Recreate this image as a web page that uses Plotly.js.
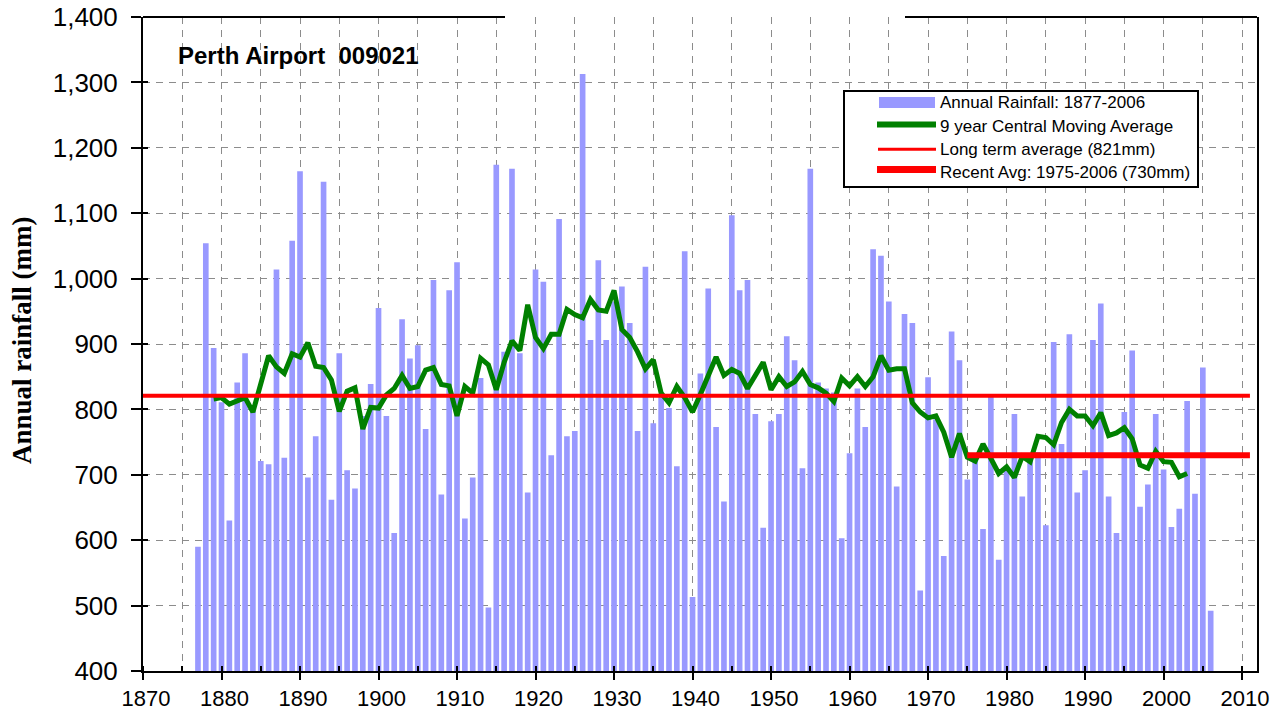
<!DOCTYPE html>
<html>
<head>
<meta charset="utf-8">
<script src="https://cdn.plot.ly/plotly-3.0.1.min.js"></script>
<style>html,body{margin:0;padding:0;background:#fff;}#chart{width:1274px;height:721px;}</style>
</head>
<body>
<div id="chart"></div>
<script>
// ---- data ----
const rainYears = [1877,1878,1879,1880,1881,1882,1883,1884,1885,1886,1887,1888,1889,1890,1891,1892,1893,1894,1895,1896,1897,1898,1899,1900,1901,1902,1903,1904,1905,1906,1907,1908,1909,1910,1911,1912,1913,1914,1915,1916,1917,1918,1919,1920,1921,1922,1923,1924,1925,1926,1927,1928,1929,1930,1931,1932,1933,1934,1935,1936,1937,1938,1939,1940,1941,1942,1943,1944,1945,1946,1947,1948,1949,1950,1951,1952,1953,1954,1955,1956,1957,1958,1959,1960,1961,1962,1963,1964,1965,1966,1967,1968,1969,1970,1971,1972,1973,1974,1975,1976,1977,1978,1979,1980,1981,1982,1983,1984,1985,1986,1987,1988,1989,1990,1991,1992,1993,1994,1995,1996,1997,1998,1999,2000,2001,2002,2003,2004,2005,2006];
const rainfall = [590,1054,894,811,630,841,886,800,721,716,1014,726,1058,1164,696,759,1148,662,886,707,679,790,839,955,790,611,938,878,898,770,998,670,982,1025,633,696,848,497,1174,888,1168,886,673,1014,995,730,1091,759,767,1313,906,1028,906,965,988,932,767,1018,779,820,802,713,1042,513,855,985,773,659,1097,982,998,793,619,782,793,912,875,710,1168,841,832,826,603,733,832,773,1045,1035,965,682,946,932,523,849,785,576,919,875,693,726,617,819,570,708,793,667,725,735,623,903,747,915,673,707,906,962,667,611,796,890,651,685,793,708,620,648,813,671,864,492];

const maYears = [1879,1880,1881,1882,1883,1884,1885,1886,1887,1888,1889,1890,1891,1892,1893,1894,1895,1896,1897,1898,1899,1900,1901,1902,1903,1904,1905,1906,1907,1908,1909,1910,1911,1912,1913,1914,1915,1916,1917,1918,1919,1920,1921,1922,1923,1924,1925,1926,1927,1928,1929,1930,1931,1932,1933,1934,1935,1936,1937,1938,1939,1940,1941,1942,1943,1944,1945,1946,1947,1948,1949,1950,1951,1952,1953,1954,1955,1956,1957,1958,1959,1960,1961,1962,1963,1964,1965,1966,1967,1968,1969,1970,1971,1972,1973,1974,1975,1976,1977,1978,1979,1980,1981,1982,1983,1984,1985,1986,1987,1988,1989,1990,1991,1992,1993,1994,1995,1996,1997,1998,1999,2000,2001,2002,2003];
const movingAvg = [816,818,808,812,818,796,840,882,865,855,885,880,902,866,864,845,797,828,833,770,803,802,822,832,852,832,835,860,864,838,836,790,835,825,878,868,830,872,905,890,960,910,893,915,915,953,945,940,968,952,950,982,922,910,888,862,876,825,810,835,818,796,823,852,880,852,861,855,832,852,872,830,850,835,842,858,838,833,825,812,848,836,850,835,850,882,860,862,862,810,796,787,790,765,727,763,727,721,747,725,702,712,696,728,720,759,757,746,780,800,790,790,775,795,760,764,772,755,715,710,736,720,719,697,702];

const longTermYears = [1870, 2011];
const longTermValues = [821, 821];
const recentYears = [1975, 2011];
const recentValues = [730, 730];

const xTickVals = [1870,1880,1890,1900,1910,1920,1930,1940,1950,1960,1970,1980,1990,2000,2010];

const seriesNames = ["Annual Rainfall: 1877-2006", "9 year Central Moving Average", "Long term average (821mm)", "Recent Avg: 1975-2006 (730mm)"];
const chartTitle = "Perth Airport\u00a0 009021";
const yTitle = "Annual rainfall (mm)";

// ---- layout geometry ----
const L = 143, T = 17, W = 1114, H = 654;
const px = x => (x - L) / W;
const py = y => (T + H - y) / H;

const BAR = '#9999ff', GREEN = '#008000', RED = '#ff0000', GRID = '#8c8c8c';
const SANS = 'Liberation Sans, Arial, sans-serif';

const traces = [
  {type: 'bar', x: rainYears, y: rainfall, name: seriesNames[0], marker: {color: BAR}, width: 0.72, showlegend: false},
  {type: 'scatter', mode: 'lines', x: maYears, y: movingAvg, name: seriesNames[1], line: {color: GREEN, width: 5}, showlegend: false},
  {type: 'scatter', mode: 'lines', x: longTermYears, y: longTermValues, name: seriesNames[2], line: {color: RED, width: 4}, showlegend: false},
  {type: 'scatter', mode: 'lines', x: recentYears, y: recentValues, name: seriesNames[3], line: {color: RED, width: 6}, showlegend: false},
  {type: 'scatter', mode: 'lines', x: [null], y: [null], yaxis: 'y2', showlegend: false, hoverinfo: 'skip'}
];

const shapes = [
  // top frame (partially drawn as in the reference)
  {type: 'line', xref: 'paper', yref: 'paper', x0: 0, x1: px(505), y0: 1, y1: 1, line: {color: 'black', width: 2}},
  {type: 'line', xref: 'paper', yref: 'paper', x0: px(905), x1: 1, y0: 1, y1: 1, line: {color: 'black', width: 2}},
  // legend box
  {type: 'rect', xref: 'paper', yref: 'paper', x0: px(844), x1: px(1198), y0: py(187), y1: py(91), line: {color: 'black', width: 2}, fillcolor: 'white'},
  {type: 'rect', xref: 'paper', yref: 'paper', x0: px(879), x1: px(935), y0: py(108), y1: py(97), line: {width: 0}, fillcolor: BAR},
  {type: 'line', xref: 'paper', yref: 'paper', x0: px(877), x1: px(936), y0: py(124.5), y1: py(124.5), line: {color: GREEN, width: 6}},
  {type: 'line', xref: 'paper', yref: 'paper', x0: px(878), x1: px(936), y0: py(149.3), y1: py(149.3), line: {color: RED, width: 3}},
  {type: 'line', xref: 'paper', yref: 'paper', x0: px(877), x1: px(936), y0: py(169.5), y1: py(169.5), line: {color: RED, width: 7}}
];

const legendRowsY = [102.3, 126.7, 150, 172.3];
const annotations = [
  {xref: 'paper', yref: 'paper', x: px(176), y: py(55), xanchor: 'left', yanchor: 'middle', showarrow: false,
   text: chartTitle, font: {family: SANS, size: 24, color: 'black', weight: 'bold'}},
  {xref: 'paper', yref: 'paper', x: px(22), y: py(340), xanchor: 'center', yanchor: 'middle', showarrow: false, textangle: -90,
   text: yTitle, font: {family: 'Liberation Serif, Times New Roman, serif', size: 27, color: 'black', weight: 'bold'}}
];
seriesNames.forEach((n, i) => annotations.push({
  xref: 'paper', yref: 'paper', x: px(938), y: py(legendRowsY[i]), xanchor: 'left', yanchor: 'middle', showarrow: false,
  text: n, font: {family: SANS, size: 17, color: 'black'}
}));

const layout = {
  width: 1274, height: 721,
  margin: {l: L, r: 1274 - L - W, t: T, b: 721 - T - H, pad: 0},
  paper_bgcolor: 'white', plot_bgcolor: 'white',
  showlegend: false,
  bargap: 0.2,
  xaxis: {
    range: [1870, 2011.9], tickmode: 'array', tickvals: xTickVals,
    ticks: 'outside', ticklen: 7, tickwidth: 2, tickcolor: 'black',
    showline: true, linecolor: 'black', linewidth: 2, zeroline: false,
    showgrid: true, gridcolor: GRID, gridwidth: 1, griddash: '7px,6px',
    tickfont: {family: SANS, size: 22, color: 'black'}, ticklabelshift: 3,
    minor: {dtick: 5, tick0: 1870, ticks: 'inside', ticklen: 5, tickwidth: 2, tickcolor: 'black',
            showgrid: true, gridcolor: GRID, gridwidth: 1, griddash: '7px,6px'},
    fixedrange: true
  },
  yaxis: {
    range: [400, 1400], tick0: 400, dtick: 100, tickformat: ',d',
    ticks: 'outside', ticklen: 10, tickwidth: 2, tickcolor: 'black',
    showline: true, linecolor: 'black', linewidth: 2, mirror: true, zeroline: false,
    showgrid: true, gridcolor: GRID, gridwidth: 1, griddash: '7px,6px',
    tickfont: {family: SANS, size: 26, color: 'black'}, ticklabelstandoff: 8,
    fixedrange: true
  },
  yaxis2: {
    overlaying: 'y', side: 'left', range: [400, 1400], tick0: 400, dtick: 100,
    ticks: 'inside', ticklen: 5, tickwidth: 2, tickcolor: 'black',
    showticklabels: false, showgrid: false, showline: false, zeroline: false, fixedrange: true
  },
  shapes: shapes,
  annotations: annotations
};

Plotly.newPlot('chart', traces, layout, {displayModeBar: false, staticPlot: true});
</script>
</body>
</html>
